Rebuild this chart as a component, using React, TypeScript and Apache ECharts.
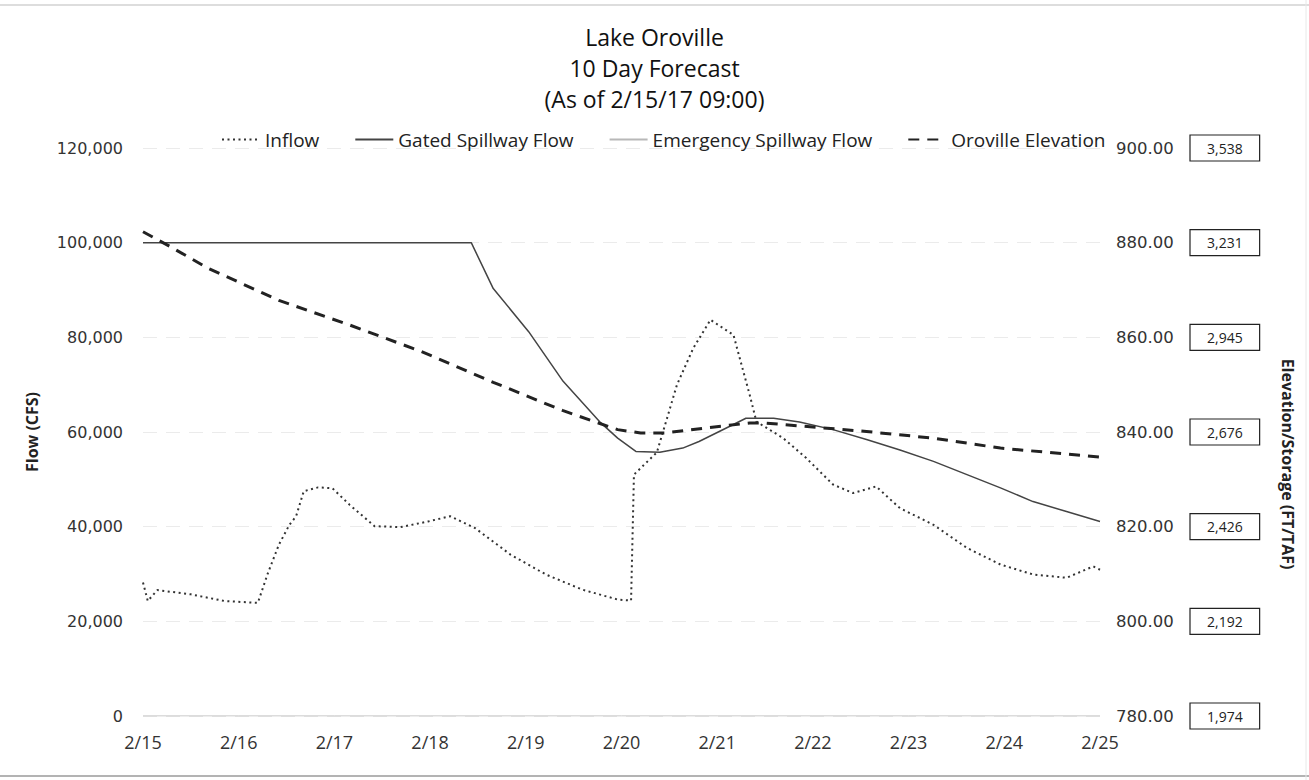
import React, { useEffect, useRef } from "react";
import * as echarts from "echarts";

// x values are days after 2/15 (0 = 2/15 00:00)
const DATE_LABELS = ["2/15", "2/16", "2/17", "2/18", "2/19", "2/20", "2/21", "2/22", "2/23", "2/24", "2/25"];
const FLOW_TICKS = [0, 20000, 40000, 60000, 80000, 100000, 120000];
const ELEV_TICKS = [780, 800, 820, 840, 860, 880, 900];
const STORAGE_LABELS = ["1,974", "2,192", "2,426", "2,676", "2,945", "3,231", "3,538"];

const INFLOW: [number, number][] = [
  [0, 28200], [0.05, 24300], [0.15, 26600], [0.5, 25700], [0.85, 24300], [1.2, 23900],
  [1.3, 29900], [1.42, 36200], [1.53, 40400], [1.6, 42200], [1.68, 47500], [1.83, 48300],
  [1.98, 48100], [2.16, 44600], [2.42, 40100], [2.69, 39900], [2.98, 41100], [3.21, 42200],
  [3.47, 39700], [3.84, 34100], [4.21, 29900], [4.59, 26700], [4.96, 24600], [5.1, 24400],
  [5.13, 51000], [5.37, 55700], [5.58, 70000], [5.75, 77700], [5.93, 83700], [6.17, 80500],
  [6.34, 67800], [6.41, 62200], [6.69, 58700], [6.93, 54500], [7.21, 48900], [7.42, 47100],
  [7.66, 48500], [7.91, 43900], [8.26, 40400], [8.61, 35500], [8.96, 32000], [9.3, 29900],
  [9.65, 29200], [9.93, 31600], [10, 30900],
];

const GATED: [number, number][] = [
  [0, 100000], [3.43, 100000], [3.66, 90300], [4.03, 81200], [4.39, 70700], [4.77, 62200],
  [4.96, 58700], [5.15, 55900], [5.4, 55700], [5.64, 56600], [5.81, 58000], [6.09, 60800],
  [6.3, 62900], [6.59, 62900], [6.86, 62100], [7.21, 60500], [7.56, 58400], [7.91, 56200],
  [8.26, 53800], [8.61, 51000], [8.96, 48200], [9.3, 45300], [9.65, 43200], [10, 41100],
];

const EMERGENCY: [number, number][] = [
  [0, 0], [1, 0], [2, 0], [3, 0], [4, 0], [5, 0], [6, 0], [7, 0], [8, 0], [9, 0], [10, 0],
];

const ELEVATION: [number, number][] = [
  [0, 882.3], [0.29, 879.1], [0.67, 874.7], [1.42, 867.8], [2.16, 862.6], [2.91, 857.0],
  [3.66, 850.5], [4.39, 844.5], [4.96, 840.5], [5.2, 839.8], [5.46, 839.8], [5.9, 840.9],
  [6.34, 841.9], [6.5, 841.9], [7.56, 840.1], [8.26, 838.7], [8.96, 836.6], [10, 834.7],
];

const SANS = "'Open Sans', 'Noto Sans', sans-serif";
const NUM = "'DejaVu Sans', sans-serif";

export default function App() {
  const ref = useRef<HTMLDivElement>(null);

  useEffect(() => {
    if (!ref.current) return;
    const chart = echarts.init(ref.current, undefined, { renderer: "svg" });
    const option: any = {
      animation: false,
      backgroundColor: "#ffffff",
      title: {
        text: "Lake Oroville\n10 Day Forecast\n(As of 2/15/17 09:00)",
        left: "center",
        top: 16,
        textStyle: {
          fontFamily: SANS,
          fontSize: 23,
          fontWeight: "normal",
          lineHeight: 31,
          color: "#111",
        },
      },
      legend: {
        left: 221,
        top: 130,
        itemWidth: 38,
        itemHeight: 12,
        itemGap: 35,
        padding: 0,
        itemStyle: { opacity: 0 },
        textStyle: { fontFamily: SANS, fontSize: 19, color: "#222" },
        data: ["Inflow", "Gated Spillway Flow", "Emergency Spillway Flow", "Oroville Elevation"],
      },
      grid: { left: 143, top: 148, width: 957, height: 568, containLabel: false },
      xAxis: {
        type: "value",
        min: 0,
        max: 10,
        interval: 1,
        axisLine: { show: false },
        axisTick: { show: false },
        splitLine: { show: false },
        axisLabel: {
          margin: 17,
          fontFamily: SANS,
          fontSize: 18,
          color: "#333",
          formatter: (v: number) => DATE_LABELS[Math.round(v)] ?? "",
        },
      },
      yAxis: [
        {
          type: "value",
          min: FLOW_TICKS[0],
          max: FLOW_TICKS[FLOW_TICKS.length - 1],
          interval: 20000,
          name: "Flow (CFS)",
          nameLocation: "middle",
          nameGap: 103,
          nameRotate: 90,
          nameTextStyle: { fontFamily: SANS, fontSize: 16, fontWeight: "bold", color: "#222" },
          axisLine: { show: false },
          axisTick: { show: false },
          splitLine: { show: true, lineStyle: { color: "#ebebeb", width: 1, type: [14, 9] } },
          axisLabel: {
            margin: 20,
            fontFamily: NUM,
            fontSize: 16,
            color: "#333",
            formatter: (v: number) => v.toLocaleString("en-US"),
          },
        },
        {
          type: "value",
          position: "right",
          min: ELEV_TICKS[0],
          max: ELEV_TICKS[ELEV_TICKS.length - 1],
          interval: 20,
          axisLine: { show: false },
          axisTick: { show: false },
          splitLine: { show: false },
          axisLabel: {
            margin: 16,
            fontFamily: NUM,
            fontSize: 16.5,
            color: "#333",
            formatter: (v: number) => v.toFixed(2),
          },
        },
        {
          type: "value",
          position: "right",
          offset: 90,
          min: ELEV_TICKS[0],
          max: ELEV_TICKS[ELEV_TICKS.length - 1],
          interval: 20,
          axisLine: { show: false },
          axisTick: { show: false },
          splitLine: { show: false },
          axisLabel: {
            margin: 0,
            fontFamily: SANS,
            fontSize: 14,
            color: "#222",
            borderColor: "#222",
            borderWidth: 1.2,
            padding: [8, 17, 4, 17],
            formatter: (v: number) => STORAGE_LABELS[ELEV_TICKS.indexOf(v)] ?? "",
          },
        },
      ],
      graphic: [
        {
          type: "text",
          x: 1288,
          y: 464,
          rotation: -Math.PI / 2,
          style: {
            text: "Elevation/Storage (FT/TAF)",
            fontFamily: SANS,
            fontSize: 16,
            fontWeight: "bold",
            fill: "#222",
            align: "center",
            verticalAlign: "middle",
          },
        },
        { type: "line", shape: { x1: 0, y1: 5, x2: 1309, y2: 5 }, style: { stroke: "#d2d2d2", lineWidth: 1.5 } },
        { type: "line", shape: { x1: 0, y1: 776, x2: 1309, y2: 776 }, style: { stroke: "#9a9a9a", lineWidth: 1.5 } },
        { type: "line", shape: { x1: 1306, y1: 0, x2: 1306, y2: 780 }, style: { stroke: "#e8e8e8", lineWidth: 1 } },
      ],
      series: [
        {
          name: "Inflow",
          type: "line",
          yAxisIndex: 0,
          data: INFLOW,
          symbol: "none",
          lineStyle: { color: "#333", width: 2, type: [2, 3.5] },
          itemStyle: { color: "#333" },
        },
        {
          name: "Gated Spillway Flow",
          type: "line",
          yAxisIndex: 0,
          data: GATED,
          symbol: "none",
          lineStyle: { color: "#444", width: 1.5 },
          itemStyle: { color: "#444" },
        },
        {
          name: "Emergency Spillway Flow",
          type: "line",
          yAxisIndex: 0,
          data: EMERGENCY,
          symbol: "none",
          lineStyle: { color: "#b8b8b8", width: 1 },
          itemStyle: { color: "#b8b8b8" },
        },
        {
          name: "Oroville Elevation",
          type: "line",
          yAxisIndex: 1,
          data: ELEVATION,
          symbol: "none",
          lineStyle: { color: "#222", width: 3, type: [11, 8] },
          itemStyle: { color: "#222" },
        },
      ],
    };
    chart.setOption(option);
    return () => chart.dispose();
  }, []);

  return (
    <div
      ref={ref}
      style={{ position: "absolute", left: 0, top: 0, width: 1309, height: 780, background: "#fff" }}
    />
  );
}
